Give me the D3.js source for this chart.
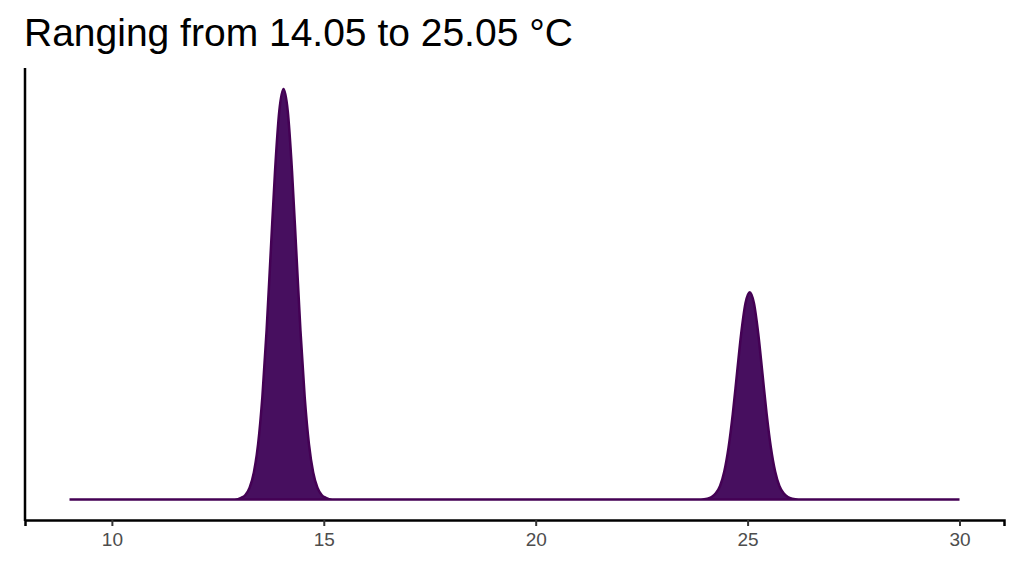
<!DOCTYPE html>
<html><head><meta charset="utf-8">
<script src="https://cdn.jsdelivr.net/npm/d3@7"></script>
<style>body{margin:0;background:#fff} .xa text{font-size:19px;font-family:"Liberation Sans",Arial,sans-serif;fill:#4d4d4d}</style></head>
<body><svg id="c" width="1024" height="576"></svg>
<script>
const title = "Ranging from 14.05 to 25.05 °C";
const xTicks = [10, 15, 20, 25, 30];
const temps = [9, 12.9, 13.05, 13.15, 13.25, 13.35, 13.45, 13.55, 13.65, 13.75, 13.85, 13.95, 14.05, 14.15, 14.25, 14.35, 14.45, 14.55, 14.65, 14.75, 14.85, 14.95, 15.05, 15.2,
  23.9, 24.05, 24.15, 24.25, 24.35, 24.45, 24.55, 24.65, 24.75, 24.85, 24.95, 25.05, 25.15, 25.25, 25.35, 25.45, 25.55, 25.65, 25.75, 25.85, 25.95, 26.05, 26.2, 30];
const density = [0, 0, 0.004, 0.011, 0.029, 0.066, 0.135, 0.249, 0.411, 0.607, 0.801, 0.946, 1.0, 0.946, 0.801, 0.607, 0.411, 0.249, 0.135, 0.066, 0.029, 0.011, 0.004, 0,
  0, 0.002, 0.006, 0.015, 0.033, 0.068, 0.126, 0.208, 0.307, 0.405, 0.478, 0.505, 0.478, 0.405, 0.307, 0.208, 0.126, 0.068, 0.033, 0.015, 0.006, 0.002, 0, 0];
const data = temps.map((t, i) => ({t, d: density[i]}));
const svg = d3.select("#c");
const x = d3.scaleLinear().domain([7.95, 31.05]).range([25, 1004]);
const y = d3.scaleLinear().domain([-0.05, 1.05]).range([520, 68.5]);
svg.append("path").datum(data)
  .attr("d", d3.area().x(d => x(d.t)).y0(y(0)).y1(d => y(d.d)).curve(d3.curveMonotoneX))
  .attr("fill", "#470f5f").attr("stroke", "#440154").attr("stroke-width", 2.5);
const xa = svg.append("g").attr("class", "xa").attr("transform", "translate(0,520)")
  .call(d3.axisBottom(x).tickValues(xTicks).tickSize(6).tickPadding(7).tickFormat(d3.format("d")));
xa.select(".domain").attr("stroke", "#000").attr("stroke-width", 2.5);
xa.selectAll("line").attr("stroke", "#333").attr("stroke-width", 2);
svg.append("line").attr("x1", 25).attr("x2", 25).attr("y1", 68).attr("y2", 521).attr("stroke", "#000").attr("stroke-width", 2.5);
svg.append("text").attr("x", 24).attr("y", 46).text(title)
  .style("font-family", "Liberation Sans, Arial, sans-serif").style("font-size", "39px").attr("fill", "#000");
</script></body></html>
